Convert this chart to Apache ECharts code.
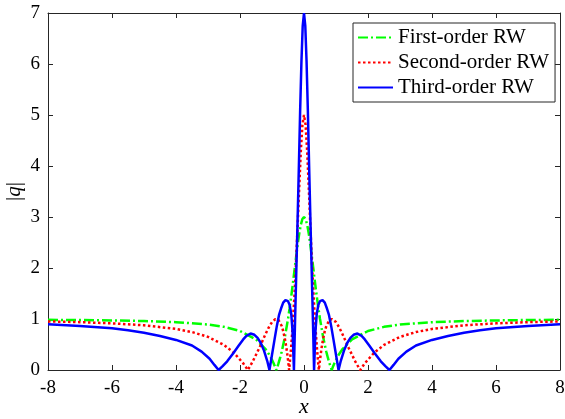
<!DOCTYPE html>
<html>
<head>
<meta charset="utf-8">
<script src="https://cdn.jsdelivr.net/npm/echarts@6/dist/echarts.min.js"></script>
<style>html,body{margin:0;padding:0;background:#fff}#c{width:565px;height:419px}</style>
</head>
<body>
<div id="c"></div>
<script>
// Series names
const seriesNames = ['First-order RW', 'Second-order RW', 'Third-order RW'];
// Axis ticks
const xTicks = [-8, -6, -4, -2, 0, 2, 4, 6, 8];
const yTicks = [0, 1, 2, 3, 4, 5, 6, 7];

// First-order RW (green, dash-dot)
const xFirst = [-8,-7,-6,-5,-4,-3,-2.5,-2,-1.5,-1.2,-1.1,-1,-0.95,-0.9,-0.866,-0.8,-0.75,-0.7,-0.6,-0.5,-0.45,-0.4,-0.35,-0.3,-0.25,-0.2,-0.15,-0.1,-0.05,0,
  0.05,0.1,0.15,0.2,0.25,0.3,0.35,0.4,0.45,0.5,0.6,0.7,0.75,0.8,0.866,0.9,0.95,1,1.1,1.2,1.5,2,2.5,3,4,5,6,7,8];
const yFirst = [0.984,0.980,0.972,0.960,0.938,0.892,0.846,0.765,0.600,0.408,0.315,0.200,0.132,0.057,0,0.124,0.231,0.351,0.639,1.000,1.210,1.439,1.685,1.941,2.200,2.448,2.670,2.846,2.960,3.000,
  2.960,2.846,2.670,2.448,2.200,1.941,1.685,1.439,1.210,1.000,0.639,0.351,0.231,0.124,0,0.057,0.132,0.200,0.315,0.408,0.600,0.765,0.846,0.892,0.938,0.960,0.972,0.980,0.984];

// Second-order RW (red, dotted)
const xSecond = [-8,-7,-6,-5,-4,-3.5,-3,-2.5,-2.2,-1.9,-1.8,-1.757,-1.7,-1.6,-1.4,-1.2,-1.1,-1.0,-0.9,-0.87,-0.8,-0.7,-0.65,-0.6,-0.55,-0.5,-0.465,-0.45,-0.4,-0.35,-0.3,-0.25,-0.2,-0.15,-0.1,-0.05,0,
  0.05,0.1,0.15,0.2,0.25,0.3,0.35,0.4,0.45,0.465,0.5,0.55,0.6,0.65,0.7,0.8,0.87,0.9,1.0,1.1,1.2,1.4,1.6,1.7,1.757,1.8,1.9,2.2,2.5,3,3.5,4,5,6,7,8];
const ySecond = [0.953,0.938,0.915,0.877,0.805,0.744,0.649,0.491,0.343,0.131,0.042,0,0.059,0.171,0.427,0.707,0.836,0.939,0.996,0.999,0.981,0.868,0.763,0.621,0.436,0.200,0,0.095,0.460,0.906,1.445,2.081,2.804,3.569,4.282,4.806,5.000,
  4.806,4.282,3.569,2.804,2.081,1.445,0.906,0.460,0.095,0,0.200,0.436,0.621,0.763,0.868,0.981,0.999,0.996,0.939,0.836,0.707,0.427,0.171,0.059,0,0.042,0.131,0.343,0.491,0.649,0.744,0.805,0.877,0.915,0.938,0.953];

// Third-order RW (blue, solid)
const xThird = [-8,-7,-6,-5.5,-5,-4.5,-4,-3.5,-3.2,-2.95,-2.8,-2.67,-2.55,-2.4,-2.21,-2.05,-1.9,-1.8,-1.67,-1.55,-1.45,-1.35,-1.25,-1.15,-1.08,-1.0,-0.92,-0.85,-0.78,-0.72,-0.65,-0.58,-0.5,-0.45,-0.40,-0.36,-0.34,-0.315,-0.28,-0.24,-0.2,-0.16,-0.12,-0.08,-0.04,0,
  0.04,0.08,0.12,0.16,0.2,0.24,0.28,0.315,0.34,0.36,0.40,0.45,0.5,0.58,0.65,0.72,0.78,0.85,0.92,1.0,1.08,1.15,1.25,1.35,1.45,1.55,1.67,1.8,1.9,2.05,2.21,2.4,2.55,2.67,2.8,2.95,3.2,3.5,4,4.5,5,5.5,6,7,8];
const yThird = [0.896,0.865,0.82,0.78,0.73,0.665,0.59,0.48,0.36,0.22,0.10,0,0.07,0.17,0.33,0.47,0.60,0.67,0.715,0.69,0.63,0.53,0.38,0.18,0,0.30,0.60,0.86,1.08,1.20,1.32,1.37,1.35,1.28,1.11,0.78,0.45,0,0.95,1.95,2.95,4.0,5.1,6.05,6.75,7.0,
  6.75,6.05,5.1,4.0,2.95,1.95,0.95,0,0.45,0.78,1.11,1.28,1.35,1.37,1.32,1.20,1.08,0.86,0.60,0.30,0,0.18,0.38,0.53,0.63,0.69,0.715,0.67,0.60,0.47,0.33,0.17,0.07,0,0.10,0.22,0.36,0.48,0.59,0.665,0.73,0.78,0.82,0.865,0.896];

function pairs(xs, ys) { return xs.map((x, i) => [x, ys[i]]); }

const axisColor = '#262626';
const font = 'Liberation Serif';
const chart = echarts.init(document.getElementById('c'), null, {renderer: 'canvas'});

const baseX = {
  type: 'value', min: xTicks[0], max: xTicks[xTicks.length - 1], interval: 2,
  axisLine: {show: true, onZero: false, lineStyle: {color: axisColor, width: 1}},
  axisTick: {show: true, inside: true, length: 5, lineStyle: {color: axisColor}},
  splitLine: {show: false}
};
const baseY = {
  type: 'value', min: yTicks[0], max: yTicks[yTicks.length - 1], interval: 1,
  axisLine: {show: true, onZero: false, lineStyle: {color: axisColor, width: 1}},
  axisTick: {show: true, inside: true, length: 5, lineStyle: {color: axisColor}},
  splitLine: {show: false}
};

chart.setOption({
  animation: false,
  backgroundColor: '#fff',
  grid: {left: 48, right: 5, top: 13, bottom: 49, containLabel: false, outerBoundsMode: 'none'},
  xAxis: [
    Object.assign({}, baseX, {
      position: 'bottom',
      axisLabel: {show: true, color: '#000', fontFamily: font, fontSize: 19, margin: 9},
      name: 'x', nameLocation: 'middle', nameGap: 37, nameMoveOverlap: false,
      nameTextStyle: {color: '#000', fontFamily: font, fontSize: 22, fontStyle: 'italic', verticalAlign: 'middle'}
    }),
    Object.assign({}, baseX, {position: 'top', axisLabel: {show: false}})
  ],
  yAxis: [
    Object.assign({}, baseY, {
      position: 'left',
      axisLabel: {show: true, color: '#000', fontFamily: font, fontSize: 19, margin: 8},
      name: '{b||}{q|q}{b||}', nameLocation: 'middle', nameGap: 34, nameRotate: 90, nameMoveOverlap: false,
      nameTextStyle: {color: '#000', fontFamily: font, fontSize: 21, verticalAlign: 'middle',
        rich: {b: {fontFamily: font, fontSize: 21, color: '#000'}, q: {fontFamily: font, fontSize: 21, fontStyle: 'italic', color: '#000'}}}
    }),
    Object.assign({}, baseY, {position: 'right', axisLabel: {show: false}})
  ],
  legend: {
    show: true, orient: 'vertical', left: 353, top: 23,
    backgroundColor: '#fff', borderColor: axisColor, borderWidth: 1,
    padding: [4, 6, 4, 4], itemGap: 4, itemWidth: 35, itemHeight: 14,
    itemStyle: {color: 'rgba(0,0,0,0)', borderWidth: 0, opacity: 0},
    textStyle: {color: '#000', fontFamily: font, fontSize: 21},
    data: seriesNames
  },
  series: [
    {name: seriesNames[0], type: 'line', xAxisIndex: 0, yAxisIndex: 0, data: pairs(xFirst, yFirst),
     showSymbol: false, symbol: 'none', smooth: false, z: 2,
     lineStyle: {color: '#00ff00', width: 2.5, type: [10, 3, 2, 3]}, itemStyle: {color: '#00ff00'}},
    {name: seriesNames[1], type: 'line', xAxisIndex: 0, yAxisIndex: 0, data: pairs(xSecond, ySecond),
     showSymbol: false, symbol: 'none', smooth: false, z: 3,
     lineStyle: {color: '#ff0000', width: 2.5, type: [2.5, 2.5]}, itemStyle: {color: '#ff0000'}},
    {name: seriesNames[2], type: 'line', xAxisIndex: 0, yAxisIndex: 0, data: pairs(xThird, yThird),
     showSymbol: false, symbol: 'none', smooth: false, z: 4,
     lineStyle: {color: '#0000ff', width: 2.5, type: 'solid'}, itemStyle: {color: '#0000ff'}}
  ]
});
</script>
</body>
</html>
